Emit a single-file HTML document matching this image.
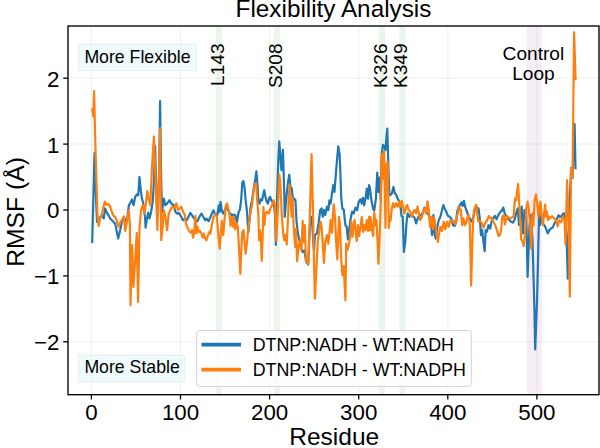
<!DOCTYPE html>
<html><head><meta charset="utf-8"><title>Flexibility Analysis</title>
<style>
html,body{margin:0;padding:0;background:#fff;}
body{width:600px;height:448px;overflow:hidden;}
svg{display:block;}
text{font-family:"Liberation Sans",sans-serif;fill:#000;}
</style></head><body>
<svg width="600" height="448" viewBox="0 0 600 448">
<rect x="0" y="0" width="600" height="448" fill="#ffffff"/>

<rect x="215.69" y="26.0" width="6.24" height="368.7" fill="#008000" fill-opacity="0.08"/>
<rect x="273.61" y="26.0" width="6.24" height="368.7" fill="#008000" fill-opacity="0.08"/>
<rect x="378.75" y="26.0" width="6.24" height="368.7" fill="#008000" fill-opacity="0.08"/>
<rect x="399.24" y="26.0" width="6.24" height="368.7" fill="#008000" fill-opacity="0.08"/>
<rect x="526.8" y="26.0" width="15.1" height="368.7" fill="#800080" fill-opacity="0.07"/>
<line x1="91.40" x2="91.40" y1="26.0" y2="394.7" stroke="#b0b0b0" stroke-opacity="0.26" stroke-width="0.8"/>
<line x1="180.50" x2="180.50" y1="26.0" y2="394.7" stroke="#b0b0b0" stroke-opacity="0.26" stroke-width="0.8"/>
<line x1="269.60" x2="269.60" y1="26.0" y2="394.7" stroke="#b0b0b0" stroke-opacity="0.26" stroke-width="0.8"/>
<line x1="358.70" x2="358.70" y1="26.0" y2="394.7" stroke="#b0b0b0" stroke-opacity="0.26" stroke-width="0.8"/>
<line x1="447.80" x2="447.80" y1="26.0" y2="394.7" stroke="#b0b0b0" stroke-opacity="0.26" stroke-width="0.8"/>
<line x1="536.90" x2="536.90" y1="26.0" y2="394.7" stroke="#b0b0b0" stroke-opacity="0.26" stroke-width="0.8"/>
<line x1="68.0" x2="599.0" y1="341.80" y2="341.80" stroke="#b0b0b0" stroke-opacity="0.26" stroke-width="0.8"/>
<line x1="68.0" x2="599.0" y1="275.90" y2="275.90" stroke="#b0b0b0" stroke-opacity="0.26" stroke-width="0.8"/>
<line x1="68.0" x2="599.0" y1="210.00" y2="210.00" stroke="#b0b0b0" stroke-opacity="0.26" stroke-width="0.8"/>
<line x1="68.0" x2="599.0" y1="144.10" y2="144.10" stroke="#b0b0b0" stroke-opacity="0.26" stroke-width="0.8"/>
<line x1="68.0" x2="599.0" y1="78.20" y2="78.20" stroke="#b0b0b0" stroke-opacity="0.26" stroke-width="0.8"/>
<clipPath id="c"><rect x="68.0" y="26.0" width="531.0" height="368.7"/></clipPath>
<g clip-path="url(#c)" fill="none" stroke-linejoin="round" stroke-linecap="butt" stroke-width="2.2">
<polyline stroke="#1f77b4" points="92.20,243.00 93.30,200.00 94.50,153.00 95.50,185.00 97.00,222.00 99.24,218.43 101.75,215.08 103.76,218.43 105.10,208.38 106.78,212.56 108.45,215.08 110.13,218.43 112.64,220.94 115.15,223.45 116.83,231.83 118.17,238.53 120.18,230.15 121.85,221.78 123.86,216.75 125.20,220.10 126.88,221.78 128.89,205.03 130.23,203.35 131.90,199.41 133.58,205.28 135.25,196.90 136.93,194.39 138.27,195.23 139.44,176.80 140.78,190.20 141.95,198.58 143.63,205.28 144.97,217.00 145.64,227.64 146.98,218.43 148.32,212.56 149.49,218.43 151.16,211.73 152.84,200.25 154.00,180.00 155.10,146.00 156.50,200.00 158.00,215.00 159.20,170.00 160.10,101.00 161.00,170.00 162.00,212.00 163.73,198.58 165.40,205.28 167.08,203.60 169.59,200.25 171.26,203.60 173.78,205.28 175.45,211.98 177.13,213.65 178.80,212.81 181.31,217.00 182.99,220.35 185.03,218.68 186.70,220.35 188.38,217.00 190.39,212.81 192.06,215.33 194.24,218.68 195.91,220.35 197.59,221.19 199.26,217.00 201.44,213.65 203.45,217.00 205.13,220.35 206.80,218.68 208.48,221.19 210.15,217.84 211.83,213.65 213.50,210.30 215.18,214.49 217.19,215.33 218.86,205.28 219.70,211.98 220.54,201.93 221.88,210.30 223.22,213.65 224.89,210.30 226.57,206.95 228.58,211.14 230.25,213.65 231.93,215.33 233.60,214.49 235.28,215.33 236.95,222.03 238.63,211.98 239.97,209.46 241.14,200.25 242.31,182.66 243.32,180.99 244.49,186.85 245.66,200.25 247.00,211.98 247.84,225.13 248.34,232.16 249.01,225.13 249.85,216.75 250.35,208.63 252.03,200.25 253.70,188.53 255.38,178.48 256.38,171.44 257.39,183.50 258.39,200.25 259.56,203.60 260.74,199.41 262.08,200.25 263.42,193.55 264.25,190.20 265.43,196.90 266.77,201.93 267.94,203.60 269.11,198.58 270.12,196.90 271.29,200.25 272.46,201.93 273.80,203.60 275.00,215.00 275.90,245.00 277.00,200.00 278.30,160.00 279.26,141.44 281.44,170.25 282.95,149.82 284.29,195.04 284.74,217.00 286.75,193.55 288.09,181.83 289.26,174.79 290.44,186.85 291.78,188.53 293.12,200.25 294.29,198.58 295.46,200.25 296.47,220.35 297.64,231.83 299.31,240.20 300.99,248.58 302.66,251.93 304.34,250.25 306.01,261.14 308.19,264.49 309.87,225.13 311.88,216.75 313.22,241.88 314.05,250.25 314.89,235.18 316.90,233.50 318.58,223.45 320.25,210.05 321.59,208.38 322.76,216.75 323.94,210.05 325.28,215.08 326.95,206.70 328.29,210.05 329.46,200.25 330.64,203.60 331.98,193.55 333.32,185.18 334.49,191.88 336.16,170.10 338.22,146.47 339.60,154.00 340.35,171.78 341.19,196.90 342.36,208.63 343.70,209.46 345.38,225.13 346.72,226.80 347.89,239.36 349.06,230.15 350.40,220.10 352.08,211.73 353.75,213.40 355.43,207.54 357.10,210.05 358.78,201.68 360.45,199.41 361.79,203.60 362.96,197.74 364.14,205.28 365.48,198.58 366.82,188.53 367.99,198.58 369.16,185.18 370.00,188.53 371.39,200.25 373.07,208.63 374.24,210.30 375.91,198.58 377.25,172.61 378.43,191.88 379.77,177.64 380.77,200.25 381.78,153.50 382.95,144.79 384.29,146.80 385.46,150.15 386.47,136.75 387.30,128.71 388.48,170.25 389.31,193.55 390.15,195.23 391.83,193.55 393.50,186.85 394.84,193.55 396.01,194.39 397.69,198.58 399.36,201.93 400.20,203.35 401.54,215.91 402.71,216.75 403.89,251.93 405.23,241.88 406.57,221.78 407.74,213.40 409.41,216.75 411.09,214.24 412.76,215.91 414.44,217.59 416.11,223.45 417.79,218.43 419.46,214.24 421.14,215.91 422.81,212.56 424.49,207.54 426.16,212.56 427.84,213.40 429.51,216.75 431.19,225.13 432.03,235.18 433.37,215.08 434.54,233.50 435.71,238.53 437.05,228.48 438.73,220.10 440.40,216.75 442.08,210.05 443.42,205.03 444.59,208.38 446.26,211.73 447.94,215.91 449.61,216.75 451.29,218.43 452.96,225.13 454.64,225.96 456.31,221.78 457.15,211.73 458.83,206.70 460.00,205.03 461.39,202.51 462.56,205.86 463.90,200.84 465.08,206.70 466.42,210.05 468.09,215.08 469.77,218.43 471.78,221.78 473.45,216.75 475.13,208.38 476.80,207.54 478.48,208.38 479.82,218.43 480.99,235.18 482.16,230.15 483.50,241.88 484.67,251.09 485.68,230.15 486.85,231.83 488.53,225.13 490.20,228.48 491.54,221.78 493.22,218.43 494.89,215.91 496.57,219.26 498.24,215.08 499.92,212.56 501.59,210.89 503.27,207.54 504.44,212.56 506.11,215.91 507.79,218.43 509.46,220.10 511.14,221.78 512.81,222.61 514.49,220.10 516.16,213.40 517.84,208.38 519.01,225.13 520.35,216.75 521.69,206.70 522.86,233.50 524.54,210.05 526.21,211.73 527.60,277.00 529.50,225.00 531.00,215.00 532.50,240.00 534.30,305.00 535.20,349.50 537.00,302.00 538.00,262.00 538.90,220.00 539.30,207.00 540.00,225.00 541.30,217.00 542.71,223.35 545.23,226.70 547.74,233.40 549.41,230.05 551.09,228.38 552.76,227.54 554.44,223.35 555.06,222.25 557.07,218.23 558.47,215.22 560.08,217.23 562.09,215.22 563.69,213.21 565.10,217.23 566.50,235.00 567.80,278.60 569.00,225.00 570.00,195.00 571.10,168.00 572.50,178.00 573.50,150.00 574.60,124.00 575.50,169.30"/>
<polyline stroke="#ff7f0e" points="92.10,108.20 93.30,116.30 94.10,91.20 95.50,150.00 97.56,216.75 98.74,225.96 100.08,218.43 101.75,215.08 103.09,208.38 104.77,201.68 106.78,205.03 108.45,204.19 110.13,206.70 111.80,211.73 113.48,215.91 115.15,216.75 116.83,220.94 118.50,226.80 120.18,222.61 121.85,220.10 123.86,216.75 125.20,230.99 126.88,221.78 128.89,210.05 129.89,225.13 130.50,305.30 132.10,245.00 133.50,287.00 136.80,233.00 138.10,301.90 139.50,228.00 141.11,210.05 142.79,205.03 144.46,213.40 145.64,205.03 147.31,191.04 148.65,198.58 150.33,205.28 152.00,166.75 153.90,136.60 157.40,230.00 160.10,128.20 161.21,240.20 162.39,229.31 163.73,210.05 165.40,216.75 167.08,230.15 168.75,213.40 170.43,210.05 172.10,206.70 174.61,208.38 176.29,203.35 177.96,210.05 179.64,208.38 181.31,206.70 182.99,211.73 185.00,215.08 185.86,223.45 187.54,227.64 189.21,230.99 190.89,232.66 192.06,230.15 193.07,237.69 194.24,231.83 195.41,215.91 196.42,233.50 197.59,226.80 198.76,231.83 200.10,230.99 201.44,233.50 202.61,237.69 203.79,233.50 205.13,238.53 206.47,240.20 207.64,236.01 209.31,231.83 210.49,233.50 211.83,225.13 213.50,216.75 215.18,214.24 216.85,216.75 218.19,233.50 219.70,248.58 221.04,230.15 221.88,220.94 223.22,235.18 224.39,221.78 225.56,206.70 226.90,203.35 228.24,208.38 229.41,213.40 230.59,225.96 231.93,216.75 233.27,226.80 233.94,216.75 235.28,229.31 236.62,223.45 237.79,226.80 238.96,246.90 240.30,273.70 241.64,243.55 242.31,231.83 243.65,230.15 244.49,241.88 245.66,253.60 247.00,241.88 248.68,225.13 250.35,213.40 252.03,205.03 252.86,196.90 254.54,184.34 256.21,183.50 257.05,198.58 258.39,215.08 259.06,240.20 260.07,230.15 261.24,246.90 261.70,261.00 262.75,233.50 263.42,207.04 264.42,225.13 265.43,213.40 267.10,211.73 268.78,213.40 270.45,208.38 272.13,205.03 273.47,200.25 274.64,203.60 275.48,220.10 276.31,241.04 277.15,225.13 279.21,174.29 280.39,183.50 281.73,213.65 283.07,232.66 284.24,240.20 285.41,235.18 286.75,244.39 288.09,216.75 289.26,184.34 290.44,198.58 291.78,217.00 292.61,198.58 293.79,228.48 295.13,246.90 295.96,228.48 297.14,261.14 298.48,246.90 300.15,240.20 301.49,250.25 302.66,220.94 303.84,241.88 304.84,225.13 306.01,261.14 307.19,258.63 308.19,264.49 309.36,233.50 310.20,203.60 311.54,154.19 312.88,205.28 313.55,241.88 314.90,298.60 317.74,241.88 319.41,229.31 320.59,221.78 321.59,226.80 322.76,243.55 323.94,262.81 325.28,241.88 326.95,235.18 328.29,243.55 329.46,233.50 330.64,220.10 331.98,232.66 332.81,218.43 333.65,204.44 334.99,216.75 336.16,241.88 337.34,259.46 338.34,233.50 339.01,216.75 340.02,225.13 341.19,258.63 342.40,275.10 343.70,266.00 345.40,300.30 346.21,243.55 347.39,250.25 348.73,245.23 350.07,236.85 351.24,221.78 352.41,236.85 353.42,225.13 354.59,220.10 355.76,233.50 356.77,241.04 357.94,225.13 359.11,236.01 360.45,226.80 361.79,216.75 362.96,231.83 364.14,225.13 365.48,230.15 366.82,220.10 367.99,230.99 369.16,216.75 370.00,230.15 370.39,216.75 371.73,226.80 373.07,236.01 374.24,211.73 375.41,225.13 376.42,220.10 377.59,241.88 378.43,263.65 379.77,233.50 380.90,200.00 381.60,157.00 382.50,153.50 383.30,179.00 384.10,151.00 385.00,200.00 385.50,228.00 386.00,190.00 386.70,164.00 387.70,161.60 388.40,200.00 388.80,228.00 389.31,218.43 390.49,220.94 391.83,208.38 393.17,203.35 394.34,207.54 396.01,203.35 397.69,206.70 399.36,201.68 400.54,206.70 401.88,200.84 403.22,208.38 404.39,213.40 406.06,206.70 407.24,205.03 408.58,210.05 410.25,211.73 411.93,216.75 413.27,211.73 414.44,210.05 416.11,213.40 417.45,206.70 418.63,212.56 420.30,220.10 421.98,216.75 423.65,210.05 424.82,208.38 426.16,213.40 427.50,201.34 428.68,208.38 430.02,226.80 431.19,216.75 432.86,229.31 434.04,216.75 435.38,225.13 436.72,235.18 437.89,241.88 439.06,233.50 440.40,226.80 442.08,230.99 443.75,221.78 445.43,229.31 447.10,221.78 448.78,226.80 450.45,220.10 452.13,221.78 453.80,220.94 455.48,224.29 456.82,215.08 457.99,213.40 459.16,206.70 460.00,208.38 460.89,210.05 462.06,225.13 463.40,218.43 464.74,225.13 465.91,223.45 467.59,216.75 468.76,215.08 469.77,225.13 470.44,250.25 471.10,285.60 472.11,250.25 472.95,225.13 473.79,211.73 475.13,206.70 476.30,204.69 477.14,213.40 478.48,221.78 480.15,220.94 481.83,223.45 483.50,227.64 485.18,223.45 486.85,220.94 488.86,215.91 490.20,218.43 491.88,217.59 493.55,221.78 495.23,225.13 496.90,230.15 498.58,236.01 499.92,235.18 501.09,230.15 502.26,216.75 503.60,215.08 504.94,224.29 506.95,215.91 508.63,217.59 510.30,218.43 511.98,217.59 513.65,215.91 514.99,198.58 516.16,200.25 517.00,191.88 518.17,184.00 519.01,200.25 520.02,216.75 521.19,239.36 522.36,241.04 523.70,246.06 525.04,233.50 526.21,208.38 527.55,201.68 528.73,208.38 530.07,225.13 531.24,248.58 532.41,213.40 533.42,225.13 534.59,200.25 535.93,194.39 537.10,201.93 538.44,216.75 539.28,208.38 540.45,201.68 541.62,213.40 542.96,225.13 544.14,213.40 545.14,204.69 545.98,216.75 546.82,211.73 547.99,220.10 549.16,216.75 550.00,218.43 552.05,216.22 554.06,218.23 556.06,220.24 557.67,226.27 559.08,220.24 561.08,222.25 563.09,216.22 564.50,220.24 565.50,244.34 567.11,180.08 568.51,220.24 569.80,296.70 571.12,168.27 572.53,177.31 574.10,32.40 575.60,80.20"/>
</g>
<rect x="68.0" y="26.0" width="531.0" height="368.7" fill="none" stroke="#000" stroke-width="1.35"/>
<line x1="91.40" x2="91.40" y1="394.7" y2="399.5" stroke="#000" stroke-width="1.3"/>
<text x="91.40" y="419.6" font-size="22.3" text-anchor="middle">0</text>
<line x1="180.50" x2="180.50" y1="394.7" y2="399.5" stroke="#000" stroke-width="1.3"/>
<text x="180.50" y="419.6" font-size="22.3" text-anchor="middle">100</text>
<line x1="269.60" x2="269.60" y1="394.7" y2="399.5" stroke="#000" stroke-width="1.3"/>
<text x="269.60" y="419.6" font-size="22.3" text-anchor="middle">200</text>
<line x1="358.70" x2="358.70" y1="394.7" y2="399.5" stroke="#000" stroke-width="1.3"/>
<text x="358.70" y="419.6" font-size="22.3" text-anchor="middle">300</text>
<line x1="447.80" x2="447.80" y1="394.7" y2="399.5" stroke="#000" stroke-width="1.3"/>
<text x="447.80" y="419.6" font-size="22.3" text-anchor="middle">400</text>
<line x1="536.90" x2="536.90" y1="394.7" y2="399.5" stroke="#000" stroke-width="1.3"/>
<text x="536.90" y="419.6" font-size="22.3" text-anchor="middle">500</text>
<line x1="63.2" x2="68.0" y1="341.80" y2="341.80" stroke="#000" stroke-width="1.3"/>
<text x="59.3" y="350.20" font-size="22.3" text-anchor="end">−2</text>
<line x1="63.2" x2="68.0" y1="275.90" y2="275.90" stroke="#000" stroke-width="1.3"/>
<text x="59.3" y="284.30" font-size="22.3" text-anchor="end">−1</text>
<line x1="63.2" x2="68.0" y1="210.00" y2="210.00" stroke="#000" stroke-width="1.3"/>
<text x="59.3" y="218.40" font-size="22.3" text-anchor="end">0</text>
<line x1="63.2" x2="68.0" y1="144.10" y2="144.10" stroke="#000" stroke-width="1.3"/>
<text x="59.3" y="152.50" font-size="22.3" text-anchor="end">1</text>
<line x1="63.2" x2="68.0" y1="78.20" y2="78.20" stroke="#000" stroke-width="1.3"/>
<text x="59.3" y="86.60" font-size="22.3" text-anchor="end">2</text>
<text x="333.5" y="17.4" font-size="24.3" text-anchor="middle">Flexibility Analysis</text>
<text x="334.2" y="445.3" font-size="24.5" text-anchor="middle">Residue</text>
<text transform="translate(23.6,212.0) rotate(-90)" font-size="24.7" text-anchor="middle">RMSF (Å)</text>
<rect x="78.5" y="44" width="117.8" height="26.8" fill="#e0f7fa" fill-opacity="0.5" stroke="#cfd8dc" stroke-opacity="0.4" stroke-width="0.8"/>
<text x="84.4" y="62.7" font-size="17.7">More Flexible</text>
<rect x="78.4" y="355.2" width="106.5" height="26.6" fill="#e0f7fa" fill-opacity="0.5" stroke="#cfd8dc" stroke-opacity="0.4" stroke-width="0.8"/>
<text x="84.4" y="372.7" font-size="17.7">More Stable</text>
<text transform="translate(223.81,43.4) rotate(-90)" font-size="19.1" text-anchor="end">L143</text>
<text transform="translate(281.73,43.4) rotate(-90)" font-size="19.1" text-anchor="end">S208</text>
<text transform="translate(386.87,43.4) rotate(-90)" font-size="19.1" text-anchor="end">K326</text>
<text transform="translate(407.36,43.4) rotate(-90)" font-size="19.1" text-anchor="end">K349</text>
<text x="533.4" y="60.0" font-size="19.1" text-anchor="middle">Control</text>
<text x="533.4" y="80.3" font-size="19.1" text-anchor="middle">Loop</text>
<rect x="196.7" y="330.5" width="274.6" height="55.9" rx="3" ry="3" fill="#fff" fill-opacity="0.8" stroke="#d4d4d4" stroke-width="1"/>
<line x1="201.5" x2="241" y1="344.7" y2="344.7" stroke="#1f77b4" stroke-width="3.8"/>
<line x1="201.5" x2="241" y1="369.7" y2="369.7" stroke="#ff7f0e" stroke-width="3.8"/>
<text x="252.7" y="350.6" font-size="17.85">DTNP:NADH - WT:NADH</text>
<text x="252.7" y="375.6" font-size="17.85">DTNP:NADH - WT:NADPH</text>
</svg></body></html>
